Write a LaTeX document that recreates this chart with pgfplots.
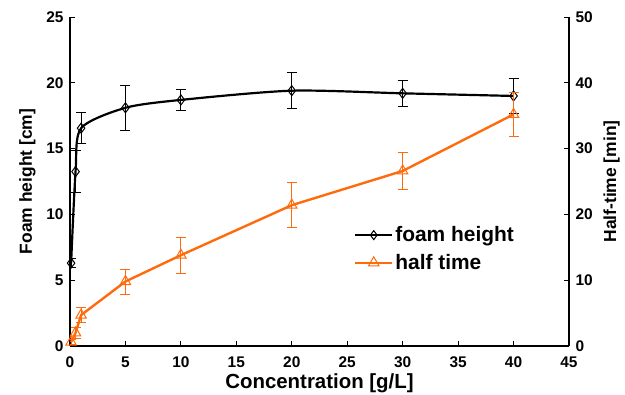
\documentclass[border=0pt]{standalone}
\usepackage{fontspec}
\setmainfont{Liberation Sans}
\usepackage{pgfplots}
\pgfplotsset{compat=1.18}
\usetikzlibrary{calc}
\definecolor{hforange}{HTML}{FF6A0D}
\pgfplotsset{
  common/.style={
    width=499bp, height=329bp, scale only axis,
    xmin=0, xmax=45, xtick={0,5,...,45},
    tick align=inside, major tick length=5bp,
    tick style={black, line width=0.9pt},
    axis line style={line width=1.2pt},
    /pgf/number format/assume math mode=true,
    ticklabel style={font=\fontsize{15.5}{15.5}\selectfont\bfseries},
    label style={font=\fontsize{17.5}{17.5}\selectfont\bfseries},
    error bars/error bar style={line width=1pt},
    error bars/error mark options={rotate=90, mark size=5bp, line width=1pt},
  }
}
\begin{document}
\begin{tikzpicture}
\begin{axis}[common,
  ymin=0, ymax=25, ytick={0,5,...,25},
  axis y line*=left, axis x line*=bottom,
  xlabel={Concentration [g/L]},
  ylabel={Foam height [cm]},
  xticklabel style={yshift=-7bp},
  yticklabel style={xshift=-3bp},
  xlabel style={yshift=1bp, font=\fontsize{20.5}{20.5}\selectfont\bfseries},
  ylabel style={yshift=4bp},
  name=ax1,
]
\addplot[black, line width=2.2pt, smooth, tension=0.45,
  mark=diamond, mark size=5bp, mark options={solid, fill=white, line width=1pt},
  error bars/.cd, y dir=both, y explicit]
  table[x=x, y=y, y error=e] {
x     y      e
0.1   6.3    0.35
0.5   13.25  1.6
1     16.55  1.2
5     18.1   1.7
10    18.7   0.8
20    19.4   1.35
30    19.2   1.0
40    19.0   1.3
};
\coordinate (bl) at (rel axis cs:0,0);
\coordinate (tr) at (rel axis cs:1,1);
\end{axis}
\begin{axis}[common,
  ymin=0, ymax=50, ytick={0,10,...,50},
  axis y line*=right, axis x line=none,
  ylabel={Half-time [min]},
  yticklabel style={xshift=3bp},
  ylabel style={yshift=-4bp},
  legend style={at={(0.563,0.375)}, anchor=north west, draw=none, fill=none,
    font=\fontsize{21}{21}\selectfont\bfseries, row sep=7bp,
    /tikz/every even column/.append style={column sep=3bp}},
  legend cell align=left,
  legend image code/.code={
    \draw[mark repeat=2,mark phase=2] plot coordinates {(0cm,0cm) (0.65cm,0cm) (1.3cm,0cm)};},
]
\addlegendimage{black, line width=2.2pt, mark=diamond, mark size=4.5bp, mark options={solid, fill=white, line width=1pt}}
\addlegendentry{foam height}
\addplot[hforange, line width=2.4pt,
  mark=triangle, mark size=6bp, mark options={solid, fill=white, line width=1pt},
  error bars/.cd, y dir=both, y explicit,
  error bar style={hforange}]
  table[x=x, y=y, y error=e] {
x     y      e
0.1   0.6    0.4
0.5   2.0    0.8
1     4.7    1.1
5     9.8    1.9
10    13.8   2.75
20    21.4   3.45
30    26.6   2.85
40    35.2   3.3
};
\addlegendentry{half time}
\end{axis}
\pgfresetboundingbox
\path (bl) ++(-70bp,-49bp) rectangle ($(tr)+(56bp,17bp)$);
\end{tikzpicture}
\end{document}
